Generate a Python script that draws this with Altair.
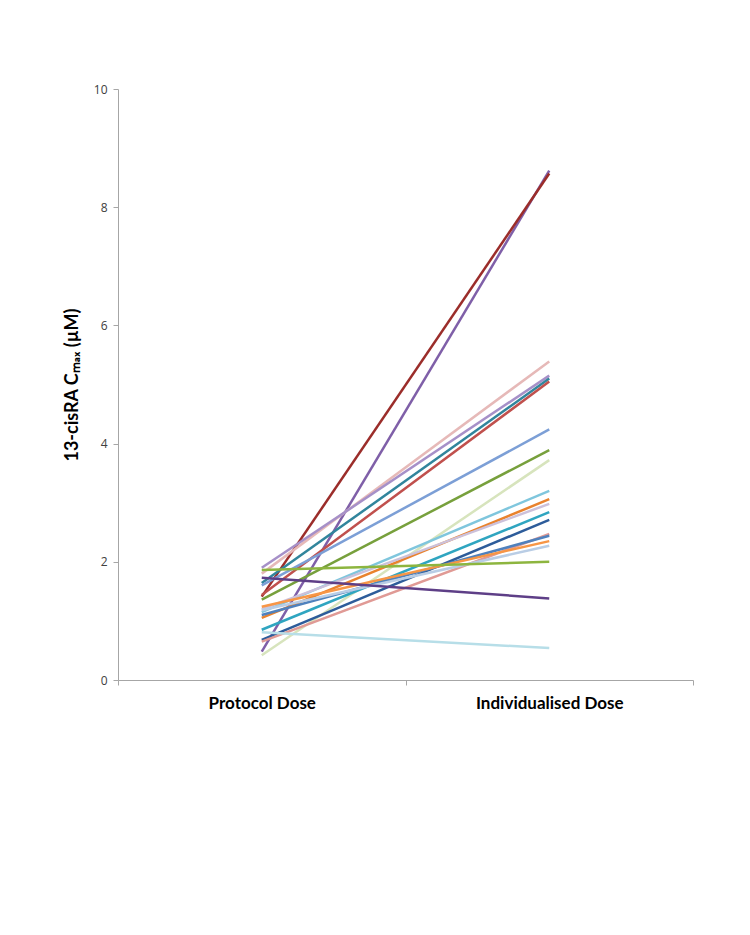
import altair as alt
import pandas as pd

doses = ["Protocol Dose", "Individualised Dose"]
patients = [f"P{i:02d}" for i in range(1, 22)]
protocol = [0.48, 1.41, 1.80, 1.90, 1.64, 1.44, 1.60, 1.36, 0.42, 1.15, 1.05,
            1.20, 0.85, 0.68, 0.65, 1.10, 1.24, 1.18, 1.86, 1.73, 0.81]
individualised = [8.62, 8.57, 5.39, 5.15, 5.10, 5.05, 4.24, 3.89, 3.72, 3.20, 3.06,
                  2.98, 2.84, 2.71, 2.47, 2.44, 2.35, 2.27, 2.00, 1.38, 0.54]
colors = ["#7F5FA8", "#9B2D2A", "#E6B9B8", "#A690C8", "#31859C", "#C0504D",
          "#7C9FD6", "#77A03C", "#D7E4BD", "#7FC6DD", "#E9822D", "#CCC1DA",
          "#2FA5C0", "#2D5C9A", "#E09A95", "#4F81BD", "#F79646", "#B9CDE5",
          "#8DB53F", "#5E3F87", "#B7DEE8"]

rows = []
for pid, a, b in zip(patients, protocol, individualised):
    rows.append({"patient": pid, "dose": doses[0], "value": a})
    rows.append({"patient": pid, "dose": doses[1], "value": b})
df = pd.DataFrame(rows)

chart = alt.Chart(df).mark_line(strokeWidth=2.5).encode(
    x=alt.X("dose:N", sort=doses,
            scale=alt.Scale(paddingInner=0, paddingOuter=0),
            axis=alt.Axis(title=None, labelAngle=0, tickBand="extent",
                          labelFont="Lato", labelFontSize=17, labelFontWeight="bold",
                          labelColor="#000000", labelPadding=10, tickSize=5,
                          domainColor="#A6A6A6", tickColor="#A6A6A6")),
    y=alt.Y("value:Q", scale=alt.Scale(domain=[0, 10], nice=False),
            axis=alt.Axis(title="13-cisRA Cₘₐₓ (µM)", values=[0, 2, 4, 6, 8, 10],
                          grid=False, tickSize=5, labelFont="Open Sans",
                          labelFontSize=12, labelColor="#404040", labelPadding=6,
                          titleFont="Lato", titleFontSize=18, titleFontWeight="bold",
                          titleColor="#000000", titlePadding=12,
                          domainColor="#A6A6A6", tickColor="#A6A6A6")),
    color=alt.Color("patient:N", scale=alt.Scale(domain=patients, range=colors), legend=None),
    detail="patient:N",
).properties(
    width=575, height=591,
    padding={"left": 110, "top": 81, "right": 20, "bottom": 80},
    autosize="none",
).configure_view(stroke=None)

chart.save("out.html", embed_options={"renderer": "svg", "actions": False})
